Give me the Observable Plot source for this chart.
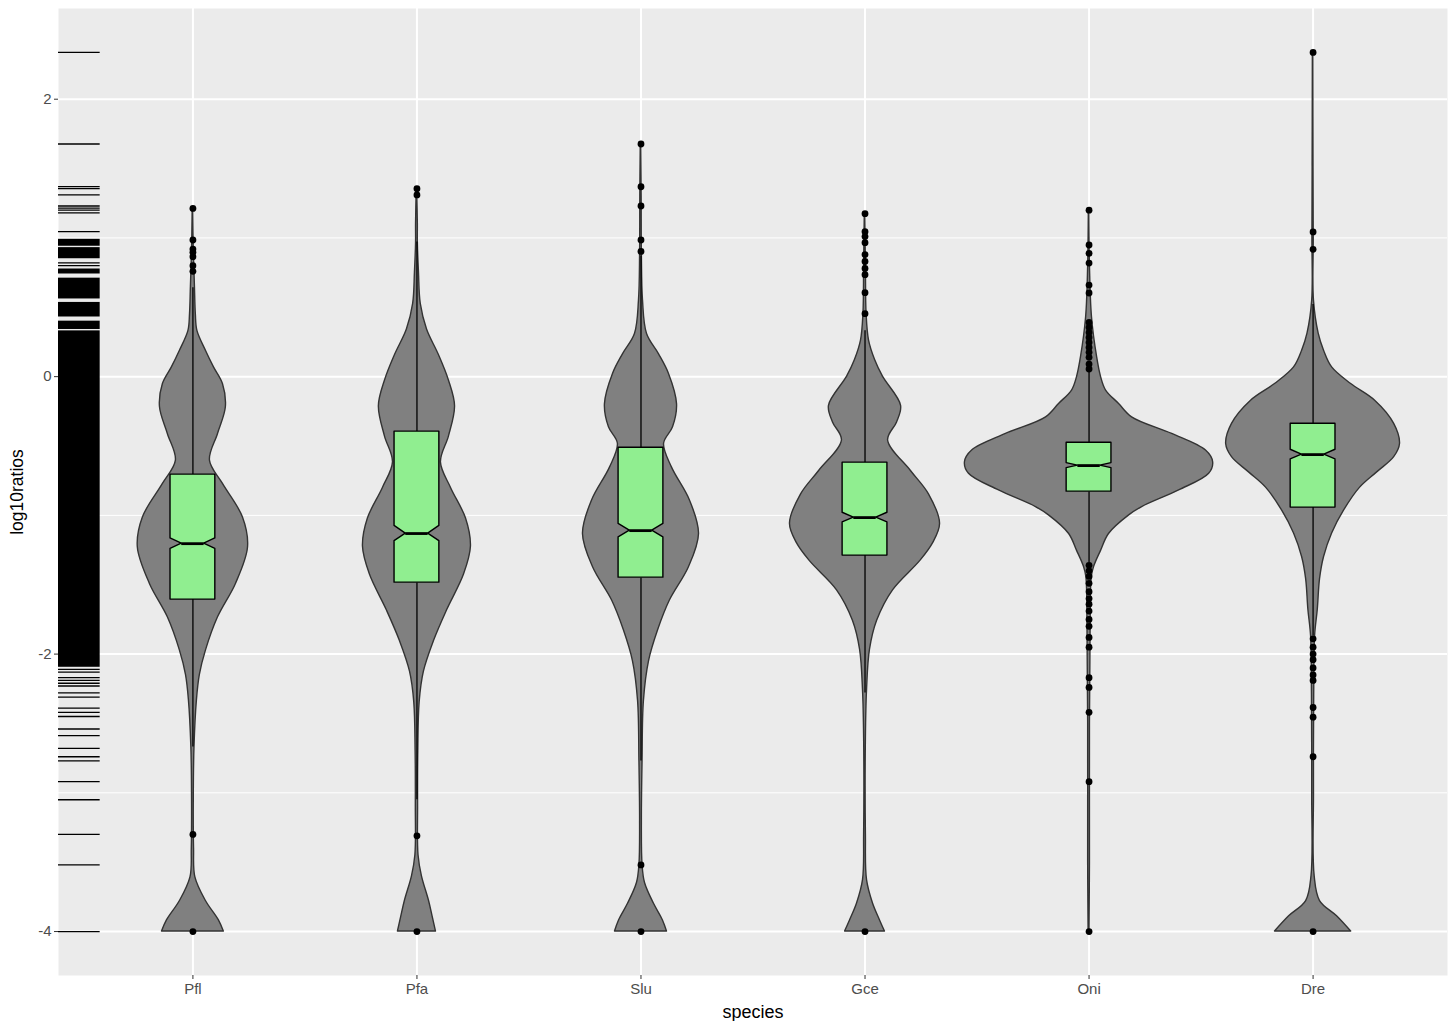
<!DOCTYPE html>
<html><head><meta charset="utf-8">
<script src="https://cdn.jsdelivr.net/npm/d3@7"></script>
<script src="https://cdn.jsdelivr.net/npm/@observablehq/plot@0.6"></script>
<style>body{margin:0;background:#fff;font-family:"Liberation Sans",Arial,Helvetica,sans-serif}</style>
</head><body><div id="chart"></div>
<script>
// ---- data ----
const species = ["Pfl", "Pfa", "Slu", "Gce", "Oni", "Dre"];

// box statistics (log10ratios)
const boxQ3 = [-0.706, -0.396, -0.512, -0.620, -0.476, -0.339];
const boxMedian = [-1.204, -1.131, -1.110, -1.016, -0.641, -0.562];
const boxQ1 = [-1.607, -1.485, -1.449, -1.290, -0.829, -0.944];
const whiskerHigh = [0.64, 0.97, 0.87, 0.33, 0.04, 0.52];
const whiskerLow = [-2.67, -3.05, -2.77, -2.28, -1.34, -1.87];
const notchHalf = [0.038, 0.055, 0.048, 0.035, 0.018, 0.035];

// outliers
const outliersPfl = [1.213, 0.985, 0.92, 0.896, 0.865, 0.80, 0.759, -3.30, -4.0];
const outliersPfa = [1.355, 1.31, -3.31, -4.0];
const outliersSlu = [1.677, 1.369, 1.23, 0.985, 0.903, -3.52, -4.0];
const outliersGce = [1.175, 1.045, 1.01, 0.966, 0.88, 0.83, 0.78, 0.735, 0.605, 0.454, -4.0];
const outliersOni = [1.20, 0.949, 0.889, 0.819, 0.66, 0.603, 0.391, 0.355, 0.319, 0.283, 0.247, 0.211, 0.175, 0.139, 0.091, 0.055,
  -1.36, -1.40, -1.44, -1.49, -1.55, -1.60, -1.64, -1.69, -1.75, -1.80, -1.88, -1.95, -2.17, -2.24, -2.42, -2.92, -4.0];
const outliersDre = [2.337, 1.043, 0.918, -1.89, -1.95, -2.0, -2.04, -2.10, -2.15, -2.19, -2.385, -2.455, -2.74, -4.0];

// violin profiles: [log10ratio, half-width in category units]
const violinPfl = [[1.213,0.001],[0.9,0.004],[0.647,0.009],[0.45,0.013],[0.33,0.020],[0.187,0.058],[0.067,0.094],[-0.053,0.134],[-0.221,0.147],[-0.413,0.112],[-0.605,0.076],[-0.773,0.134],[-1.014,0.223],[-1.23,0.246],[-1.494,0.192],[-1.735,0.112],[-1.975,0.058],[-2.15,0.031],[-2.33,0.018],[-2.67,0.007],[-3.0,0.004],[-3.4,0.005],[-3.61,0.011],[-3.78,0.058],[-3.92,0.116],[-4.0,0.138]];
const violinPfa = [[1.355,0.001],[1.1,0.004],[0.966,0.004],[0.75,0.009],[0.524,0.017],[0.34,0.045],[0.156,0.098],[-0.029,0.143],[-0.213,0.170],[-0.43,0.143],[-0.618,0.107],[-0.802,0.152],[-1.023,0.219],[-1.225,0.241],[-1.427,0.210],[-1.686,0.134],[-1.906,0.076],[-2.127,0.031],[-2.348,0.012],[-2.7,0.006],[-3.1,0.005],[-3.45,0.007],[-3.6,0.022],[-3.78,0.054],[-3.9,0.071],[-4.0,0.085]];
const violinSlu = [[1.677,0.001],[1.3,0.003],[0.884,0.004],[0.548,0.009],[0.308,0.027],[0.163,0.080],[0.02,0.125],[-0.2,0.161],[-0.365,0.143],[-0.485,0.103],[-0.654,0.138],[-0.894,0.219],[-1.134,0.259],[-1.374,0.214],[-1.614,0.129],[-1.83,0.076],[-2.05,0.036],[-2.34,0.013],[-2.77,0.007],[-3.2,0.004],[-3.52,0.007],[-3.65,0.018],[-3.8,0.058],[-3.92,0.098],[-4.0,0.116]];
const violinGce = [[1.175,0.001],[0.8,0.004],[0.454,0.007],[0.26,0.018],[0.12,0.045],[0.0,0.080],[-0.21,0.161],[-0.33,0.143],[-0.46,0.103],[-0.68,0.205],[-0.85,0.286],[-1.06,0.335],[-1.2,0.304],[-1.33,0.246],[-1.54,0.125],[-1.76,0.054],[-1.97,0.022],[-2.26,0.009],[-2.6,0.004],[-3.3,0.004],[-3.63,0.009],[-3.8,0.036],[-3.92,0.067],[-4.0,0.089]];
const violinOni = [[1.20,0.001],[0.8,0.004],[0.43,0.013],[0.14,0.036],[-0.005,0.054],[-0.1,0.076],[-0.197,0.134],[-0.293,0.192],[-0.413,0.371],[-0.533,0.522],[-0.617,0.554],[-0.70,0.536],[-0.82,0.402],[-0.94,0.237],[-1.0,0.179],[-1.134,0.089],[-1.254,0.054],[-1.374,0.022],[-1.446,0.012],[-1.8,0.007],[-2.5,0.004],[-3.5,0.004],[-4.0,0.002]];
const violinDre = [[2.337,0.001],[1.5,0.002],[1.0,0.003],[0.548,0.004],[0.31,0.025],[0.187,0.049],[0.067,0.085],[-0.053,0.170],[-0.173,0.277],[-0.34,0.362],[-0.485,0.388],[-0.58,0.362],[-0.69,0.286],[-0.80,0.210],[-0.966,0.138],[-1.13,0.085],[-1.30,0.049],[-1.46,0.031],[-1.68,0.021],[-1.87,0.009],[-2.3,0.005],[-3.0,0.004],[-3.6,0.007],[-3.78,0.031],[-3.89,0.107],[-4.0,0.170]];

// rug (all observations on the y axis)
const rugValues = [2.337, 1.677, 1.37, 1.355, 1.31, 1.23, 1.215, 1.20, 1.18, 1.045, 0.82, 0.80,
  -2.11, -2.13, -2.17, -2.19, -2.21, -2.23, -2.28, -2.31, -2.39, -2.42, -2.45, -2.54, -2.587, -2.68, -2.74, -2.77, -2.92, -3.05, -3.30, -3.52, -4.0];
const rugDenseRanges = [[0.94, 0.99], [0.85, 0.93], [0.74, 0.776], [0.56, 0.71], [0.43, 0.535], [0.34, 0.40], [-2.095, 0.33]];

const yMajorTicks = [-4, -2, 0, 2];
const yMinorTicks = [-3, -1, 1];

// ---- build ----
const violins = [violinPfl, violinPfa, violinSlu, violinGce, violinOni, violinDre];
const outliers = [outliersPfl, outliersPfa, outliersSlu, outliersGce, outliersOni, outliersDre];
const idx = species.map((s, i) => i + 1);

const allY = [...rugValues, ...outliers.flat()];
const yMin = d3.min(allY), yMax = d3.max(allY), yPad = 0.05 * (yMax - yMin);
const xDomain = [0.4, species.length + 0.6];
const rugLen = 0.03 * (xDomain[1] - xDomain[0]);
const boxHalf = 0.1;

const violinRows = species.flatMap((s, i) => violins[i].map(([y, w]) => ({s, c: i + 1, y, w})));
const boxRows = species.flatMap((s, i) => {
  const c = i + 1, h = boxHalf, n = notchHalf[i];
  return [
    {s, y: boxQ1[i], x1: c - h, x2: c + h},
    {s, y: boxMedian[i] - n, x1: c - h, x2: c + h},
    {s, y: boxMedian[i], x1: c - h / 2, x2: c + h / 2},
    {s, y: boxMedian[i] + n, x1: c - h, x2: c + h},
    {s, y: boxQ3[i], x1: c - h, x2: c + h}
  ];
});
const outlierRows = species.flatMap((s, i) => outliers[i].map(y => ({s, c: i + 1, y})));

const font = '"Liberation Sans", Arial, Helvetica, sans-serif';

const chart = Plot.plot({
  width: 1454,
  height: 1021,
  marginLeft: 58,
  marginRight: 7,
  marginTop: 8,
  marginBottom: 46,
  style: {fontFamily: font, background: "#fff", overflow: "visible"},
  x: {type: "linear", domain: xDomain},
  y: {domain: [yMin - yPad, yMax + yPad]},
  marks: [
    Plot.frame({fill: "#EBEBEB", stroke: null}),
    Plot.ruleY(yMinorTicks, {stroke: "#fff", strokeWidth: 1}),
    Plot.ruleY(yMajorTicks, {stroke: "#fff", strokeWidth: 2}),
    Plot.ruleX(idx, {stroke: "#fff", strokeWidth: 2}),
    Plot.areaX(violinRows, {y: "y", x1: d => d.c - d.w, x2: d => d.c + d.w, z: "s",
      fill: "#808080", stroke: "#333333", strokeWidth: 1.4, curve: "catmull-rom"}),
    Plot.ruleX(idx, {x: d => d, y1: i => boxQ3[i - 1], y2: i => whiskerHigh[i - 1], stroke: "#000", strokeWidth: 1.3}),
    Plot.ruleX(idx, {x: d => d, y1: i => boxQ1[i - 1], y2: i => whiskerLow[i - 1], stroke: "#000", strokeWidth: 1.3}),
    Plot.areaX(boxRows, {y: "y", x1: "x1", x2: "x2", z: "s", fill: "#90EE90", stroke: "#000", strokeWidth: 1.4, curve: "linear"}),
    Plot.ruleY(idx, {y: i => boxMedian[i - 1], x1: i => i - boxHalf / 2, x2: i => i + boxHalf / 2, stroke: "#000", strokeWidth: 2.8}),
    Plot.dot(outlierRows, {x: "c", y: "y", r: 3.4, fill: "#000", stroke: null}),
    Plot.rect(rugDenseRanges, {y1: d => d[0], y2: d => d[1], x1: xDomain[0], x2: xDomain[0] + rugLen, fill: "#000"}),
    Plot.ruleY(rugValues, {y: d => d, x1: xDomain[0], x2: xDomain[0] + rugLen, stroke: "#000", strokeWidth: 1.3}),
    Plot.axisX({ticks: idx, tickFormat: i => species[i - 1], tickSize: 4, tickPadding: 4, fontSize: 15,
      fill: "#4D4D4D", stroke: "#333333", label: null}),
    Plot.axisY({ticks: yMajorTicks, tickFormat: d => String(d), tickSize: 4, tickPadding: 3, fontSize: 15,
      fill: "#4D4D4D", stroke: "#333333", label: null}),
    Plot.text(["species"], {text: d => d, frameAnchor: "bottom", dy: 37, lineAnchor: "middle", fontSize: 18, fill: "#000"}),
    Plot.text(["log10ratios"], {text: d => d, frameAnchor: "left", dx: -41, rotate: -90, textAnchor: "middle", lineAnchor: "middle", fontSize: 17.5, fill: "#000"})
  ]
});
document.getElementById("chart").appendChild(chart);
</script>
</body></html>
